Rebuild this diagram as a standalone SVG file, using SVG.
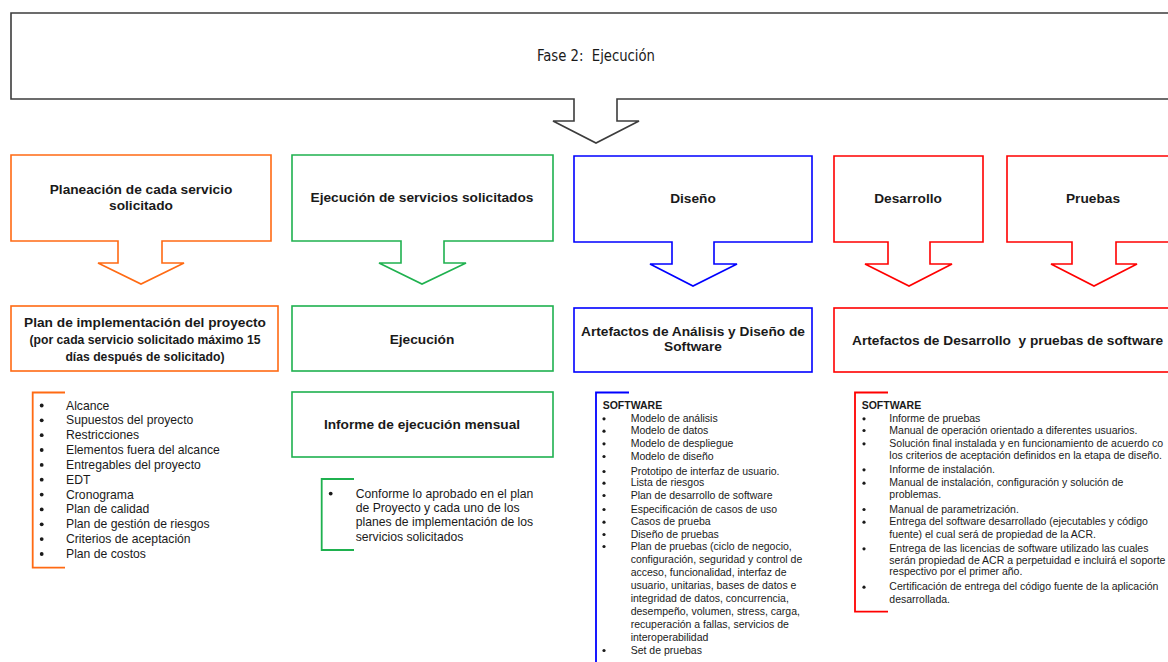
<svg xmlns="http://www.w3.org/2000/svg" width="1168" height="662" viewBox="0 0 1168 662">
<style>
.bg{fill:#fff}
.sh{fill:#fff;stroke-width:1.6;stroke-linejoin:miter}
.k{stroke:#3c3c3c}
.o{stroke:#ff6a13}
.g{stroke:#1fb14f}
.b{stroke:#0000ff}
.r{stroke:#ff0000}
.br{fill:none;stroke-width:1.8}
.h{font-family:"Liberation Sans",Arial,sans-serif;font-weight:bold;font-size:13.7px;fill:#1a1a1a;text-anchor:middle}
.h2{font-family:"Liberation Sans",Arial,sans-serif;font-weight:bold;font-size:12.2px;fill:#1a1a1a;text-anchor:middle}
.t{font-family:"Liberation Sans Narrow","Arial Narrow","DejaVu Sans Condensed",sans-serif;font-size:16px;fill:#1a1a1a;text-anchor:middle}
.l12{font-family:"Liberation Sans",Arial,sans-serif;font-size:12.2px;fill:#1a1a1a}
.l10{font-family:"Liberation Sans",Arial,sans-serif;font-size:10.5px;fill:#1a1a1a}
.l10b{font-family:"Liberation Sans",Arial,sans-serif;font-size:10.5px;font-weight:bold;fill:#1a1a1a}
.dot{fill:#1a1a1a}
</style>
<rect class="bg" x="0" y="0" width="1168" height="662"/>

<g id="fase2">
<path class="sh k" d="M11,13 H1184 V99 H617 V121 H639 L596,143 L553,121 H574 V99 H11 Z"/>
<text class="t" x="596" y="61" textLength="118" lengthAdjust="spacingAndGlyphs">Fase 2:&#160; Ejecución</text>
</g>

<g id="planeacion">
<path class="sh o" d="M11,155 H271 V241 H162 V263 H184 L141,284 L98,263 H118 V241 H11 Z"/>
<text class="h" x="141" y="193.5">Planeación de cada servicio</text>
<text class="h" x="141" y="209.5">solicitado</text>
</g>

<g id="plan-implementacion">
<rect class="sh o" x="11" y="306" width="267" height="65"/>
<text class="h" x="145" y="327">Plan de implementación del proyecto</text>
<text class="h2" x="145" y="344">(por cada servicio solicitado máximo 15</text>
<text class="h2" x="145" y="360.5">días después de solicitado)</text>
</g>

<g id="lista-plan">
<path class="br o" d="M65,392.5 H32.7 V567.7 H65"/>
<g class="dot">
<circle cx="41.7" cy="405.5" r="1.9"/><circle cx="41.7" cy="420.3" r="1.9"/><circle cx="41.7" cy="435.2" r="1.9"/><circle cx="41.7" cy="450" r="1.9"/><circle cx="41.7" cy="464.9" r="1.9"/><circle cx="41.7" cy="479.7" r="1.9"/><circle cx="41.7" cy="494.6" r="1.9"/><circle cx="41.7" cy="509.4" r="1.9"/><circle cx="41.7" cy="524.3" r="1.9"/><circle cx="41.7" cy="539.1" r="1.9"/><circle cx="41.7" cy="554" r="1.9"/>
</g>
<text class="l12" x="66" y="409.5">Alcance</text>
<text class="l12" x="66" y="424.3">Supuestos del proyecto</text>
<text class="l12" x="66" y="439.2">Restricciones</text>
<text class="l12" x="66" y="454">Elementos fuera del alcance</text>
<text class="l12" x="66" y="468.9">Entregables del proyecto</text>
<text class="l12" x="66" y="483.7">EDT</text>
<text class="l12" x="66" y="498.6">Cronograma</text>
<text class="l12" x="66" y="513.4">Plan de calidad</text>
<text class="l12" x="66" y="528.3">Plan de gestión de riesgos</text>
<text class="l12" x="66" y="543.1">Criterios de aceptación</text>
<text class="l12" x="66" y="558">Plan de costos</text>
</g>

<g id="ejecucion-servicios">
<path class="sh g" d="M292,155 H553 V241 H444 V263 H466 L422,284 L379,263 H401 V241 H292 Z"/>
<text class="h" x="422" y="202">Ejecución de servicios solicitados</text>
</g>

<g id="ejecucion">
<rect class="sh g" x="292" y="306" width="261" height="65"/>
<text class="h" x="422" y="344">Ejecución</text>
</g>

<g id="informe">
<rect class="sh g" x="292" y="392" width="261" height="65"/>
<text class="h" x="422" y="429">Informe de ejecución mensual</text>
</g>

<g id="lista-informe">
<path class="br g" d="M354,479 H321.7 V550 H354"/>
<circle class="dot" cx="330.7" cy="493.6" r="1.9"/>
<text class="l12" x="355.7" y="497.6">Conforme lo aprobado en el plan</text>
<text class="l12" x="355.7" y="512">de Proyecto y cada uno de los</text>
<text class="l12" x="355.7" y="526.4">planes de implementación de los</text>
<text class="l12" x="355.7" y="540.8">servicios solicitados</text>
</g>

<g id="diseno">
<path class="sh b" d="M574,156 H812 V242 H714 V264 H737 L693,286 L650,264 H672 V242 H574 Z"/>
<text class="h" x="693" y="203">Diseño</text>
</g>

<g id="artefactos-diseno">
<rect class="sh b" x="574" y="308" width="238" height="64"/>
<text class="h" x="693" y="335.5">Artefactos de Análisis y Diseño de</text>
<text class="h" x="693" y="351">Software</text>
</g>

<g id="lista-diseno">
<path class="br b" d="M629,392.5 H596 V670"/>
<text class="l10b" x="602.7" y="409.4">SOFTWARE</text>
<g class="dot">
<circle cx="604" cy="418.8" r="1.6"/><circle cx="604" cy="431.2" r="1.6"/><circle cx="604" cy="443.8" r="1.6"/><circle cx="604" cy="456.5" r="1.6"/><circle cx="604" cy="471.5" r="1.6"/><circle cx="604" cy="483.2" r="1.6"/><circle cx="604" cy="495.5" r="1.6"/><circle cx="604" cy="509.5" r="1.6"/><circle cx="604" cy="522.2" r="1.6"/><circle cx="604" cy="534.5" r="1.6"/><circle cx="604" cy="546.5" r="1.6"/><circle cx="604" cy="650.5" r="1.6"/>
</g>
<text class="l10" x="630.7" y="422">Modelo de análisis</text>
<text class="l10" x="630.7" y="434.4">Modelo de datos</text>
<text class="l10" x="630.7" y="447">Modelo de despliegue</text>
<text class="l10" x="630.7" y="459.7">Modelo de diseño</text>
<text class="l10" x="630.7" y="474.7">Prototipo de interfaz de usuario.</text>
<text class="l10" x="630.7" y="486.4">Lista de riesgos</text>
<text class="l10" x="630.7" y="498.7">Plan de desarrollo de software</text>
<text class="l10" x="630.7" y="512.7">Especificación de casos de uso</text>
<text class="l10" x="630.7" y="525.4">Casos de prueba</text>
<text class="l10" x="630.7" y="537.7">Diseño de pruebas</text>
<text class="l10" x="630.7" y="549.7">Plan de pruebas (ciclo de negocio,</text>
<text class="l10" x="630.7" y="562.8">configuración, seguridad y control de</text>
<text class="l10" x="630.7" y="575.9">acceso, funcionalidad, interfaz de</text>
<text class="l10" x="630.7" y="589">usuario, unitarias, bases de datos e</text>
<text class="l10" x="630.7" y="602">integridad de datos, concurrencia,</text>
<text class="l10" x="630.7" y="615">desempeño, volumen, stress, carga,</text>
<text class="l10" x="630.7" y="628">recuperación a fallas, servicios de</text>
<text class="l10" x="630.7" y="641">interoperabilidad</text>
<text class="l10" x="630.7" y="653.7">Set de pruebas</text>
</g>

<g id="desarrollo">
<path class="sh r" d="M834,156 H983 V242 H930 V264 H952 L909,286 L865,264 H888 V242 H834 Z"/>
<text class="h" x="908" y="203">Desarrollo</text>
</g>

<g id="pruebas">
<path class="sh r" d="M1007,156 H1184 V242 H1116 V264 H1137 L1094,286 L1051,264 H1072 V242 H1007 Z"/>
<text class="h" x="1093" y="203">Pruebas</text>
</g>

<g id="artefactos-desarrollo">
<rect class="sh r" x="834" y="308" width="350" height="64"/>
<text class="h" x="852" y="344.5" style="text-anchor:start">Artefactos de Desarrollo&#160; y pruebas de software</text>
</g>

<g id="lista-desarrollo">
<path class="br r" d="M888,392.5 H855 V611.7 H888"/>
<text class="l10b" x="861.7" y="409.4">SOFTWARE</text>
<g class="dot">
<circle cx="864" cy="418.8" r="1.6"/><circle cx="864" cy="430.5" r="1.6"/><circle cx="864" cy="443.8" r="1.6"/><circle cx="864" cy="469.8" r="1.6"/><circle cx="864" cy="483.2" r="1.6"/><circle cx="864" cy="509.5" r="1.6"/><circle cx="864" cy="522.2" r="1.6"/><circle cx="864" cy="548.8" r="1.6"/><circle cx="864" cy="587.2" r="1.6"/>
</g>
<text class="l10" x="889.3" y="422">Informe de pruebas</text>
<text class="l10" x="889.3" y="433.7">Manual de operación orientado a diferentes usuarios.</text>
<text class="l10" x="889.3" y="447">Solución final instalada y en funcionamiento de acuerdo co</text>
<text class="l10" x="889.3" y="458.7">los criterios de aceptación definidos en la etapa de diseño.</text>
<text class="l10" x="889.3" y="473">Informe de instalación.</text>
<text class="l10" x="889.3" y="486.4">Manual de instalación, configuración y solución de</text>
<text class="l10" x="889.3" y="498">problemas.</text>
<text class="l10" x="889.3" y="512.7">Manual de parametrización.</text>
<text class="l10" x="889.3" y="525.4">Entrega del software desarrollado (ejecutables y código</text>
<text class="l10" x="889.3" y="537.7">fuente) el cual será de propiedad de la ACR.</text>
<text class="l10" x="889.3" y="552">Entrega de las licencias de software utilizado las cuales</text>
<text class="l10" x="889.3" y="563.7">serán propiedad de ACR a perpetuidad e incluirá el soporte</text>
<text class="l10" x="889.3" y="575.4">respectivo por el primer año.</text>
<text class="l10" x="889.3" y="590.4">Certificación de entrega del código fuente de la aplicación</text>
<text class="l10" x="889.3" y="602.7">desarrollada.</text>
</g>

<g id="connectors"></g>
</svg>
